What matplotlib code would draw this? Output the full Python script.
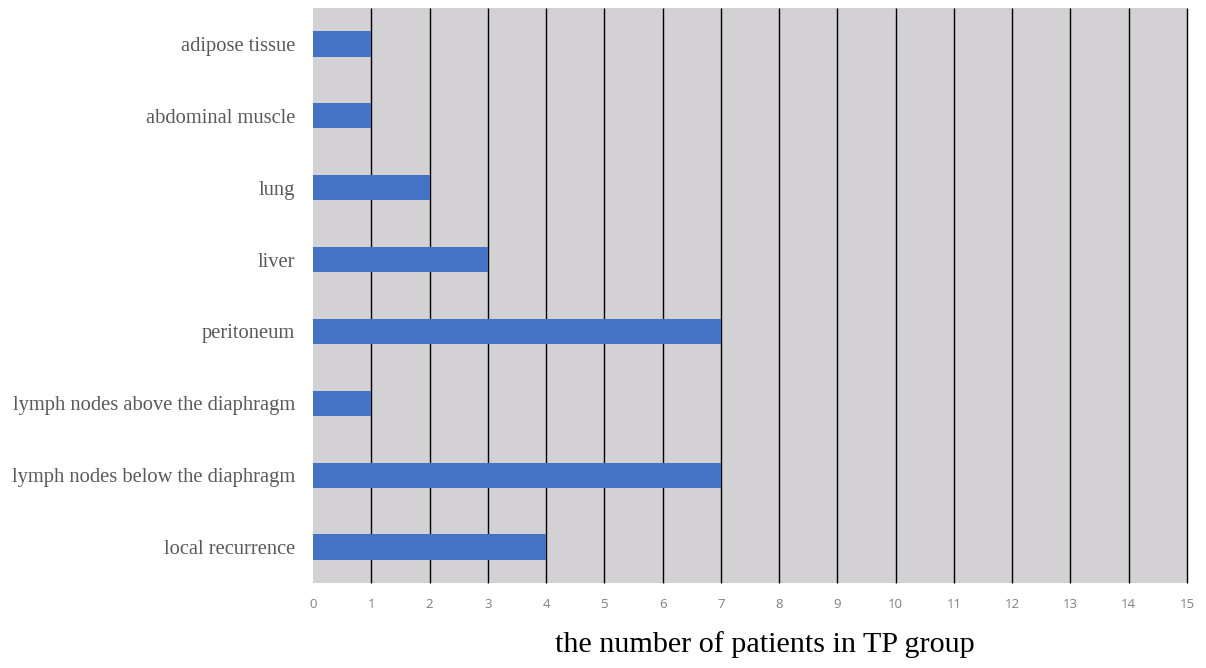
import numpy as np
import matplotlib.pyplot as plt

# 转移部位 (从下到上)
sites = ['local recurrence', 'lymph nodes below the diaphragm',
         'lymph nodes above the diaphragm', 'peritoneum', 'liver', 'lung',
         'abdominal muscle', 'adipose tissue']
counts = [4, 7, 1, 7, 3, 2, 1, 1]
xticks = list(range(0, 16))

fig = plt.figure(figsize=(12.06, 6.68), dpi=100)
ax = fig.add_axes([313 / 1206, 1 - 583 / 668, 874 / 1206, 575 / 668])
ax.set_facecolor('#d3d1d3')

y = np.arange(len(sites))
ax.barh(y, counts, height=0.35, color='#4472c4', zorder=3)

ax.set_xlim(0, 15)
ax.set_ylim(-0.5, len(sites) - 0.5)
ax.set_xticks(xticks)
ax.set_xticklabels([str(t) for t in xticks], fontsize=9.5, color='#808080',
                   family='Open Sans')
ax.set_yticks(y)
ax.set_yticklabels(sites, fontsize=14.8, color='#595959', family='Liberation Serif')
ax.tick_params(axis='x', length=0, pad=11)
ax.tick_params(axis='y', length=0, pad=13)
# 竖直网格线
ax.vlines(xticks[1:], -0.5, len(sites) - 0.5, color='black', linewidth=1,
          zorder=1, clip_on=False)
for s in ax.spines.values():
    s.set_visible(False)

fig.text(765 / 1206, 1 - 645 / 668, 'the number of patients in TP group',
         ha='center', va='center', fontsize=21.7, family='Liberation Serif')

fig.savefig('out.png', dpi=100)
